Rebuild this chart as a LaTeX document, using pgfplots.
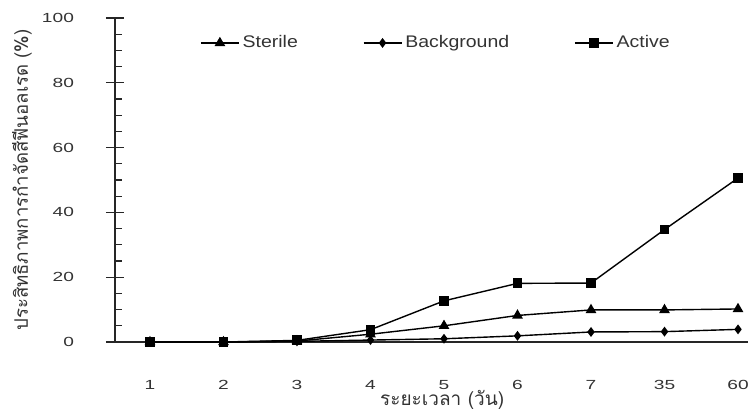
\documentclass[border=0pt]{standalone}
\usepackage{pgfplots}
\pgfplotsset{compat=1.18}
\usepackage{graphicx}
\usepackage{fontspec}
\setmainfont{Liberation Sans}
\newfontfamily\thaifont[Script=Thai]{Loma}
\newcommand\sx[1]{\scalebox{1.45}[1]{#1}}
\newcommand\slg[1]{\scalebox{1.16}[1]{#1}}
\colorlet{txt}{black!80}
\begin{document}
\begin{tikzpicture}
\begin{axis}[
  at={(0,0)}, anchor=south west,
  scale only axis, width=318.85pt, height=162pt,
  xmin=-0.476, xmax=8.2, ymin=0, ymax=100,
  clip=false,
  axis lines=left, axis line style={-, line width=0.6pt, black!85},
  xtick={0,1,2,3,4,5,6,7,8},
  xticklabels={\sx{1},\sx{2},\sx{3},\sx{4},\sx{5},\sx{6},\sx{7},\sx{35},\sx{60}},
  x tick style={draw=none},
  ytick={0,20,40,60,80,100},
  yticklabel={\sx{\pgfmathprintnumber{\tick}}},
  minor y tick num=3,
  tick align=center,
  major tick length=9pt,
  minor tick length=3.5pt,
  minor y tick style={xshift=1.75pt},
  y tick style={line width=0.6pt, black!85},
  /pgf/number format/assume math mode=true,
  tick label style={font=\fontsize{6.6}{7}\selectfont, text=txt},
  yticklabel style={xshift=-12.5pt},
  xticklabel style={yshift=-11pt},
  xlabel={{\thaifont ระยะเวลา} (วัน)},
  xlabel style={at={(axis description cs:0.513,-0.178)}, anchor=center, inner sep=0pt, font=\thaifont\fontsize{9.5}{10}\selectfont, text=txt},
  ylabel={{\thaifont ประสิทธิภาพการกำจัดสีฟีนอลเรด} (\%)},
  ylabel style={at={(axis description cs:-0.1458,0.5)}, anchor=center, font=\thaifont\fontsize{9.3}{10}\selectfont, text=txt},
  legend style={draw=none, fill=none, at={(axis description cs:0.133,0.923)}, anchor=west,
    font=\fontsize{8.4}{10}\selectfont, text=txt, inner sep=0pt,
    nodes={inner xsep=1.5pt}},
  legend columns=-1,
  legend cell align=left,
  /tikz/every even column/.append style={column sep=31pt},
  legend image code/.code={\draw[mark repeat=2,mark phase=2,#1] plot coordinates {(0pt,0pt) (9.5pt,0pt) (19pt,0pt)};},
]
\addplot[black, line width=0.7pt, mark=triangle*, mark size=2.4pt, mark options={solid}]
  coordinates {(0,0) (1,0) (2,0.3) (3,2.4) (4,5.0) (5,8.2) (6,9.9) (7,9.9) (8,10.2)};
\addlegendentry{\slg{Sterile}}
\addplot[black, line width=0.7pt, mark=diamond*, mark size=1.9pt, mark options={solid}]
  coordinates {(0,0) (1,0) (2,0.2) (3,0.6) (4,1.0) (5,1.9) (6,3.1) (7,3.2) (8,3.9)};
\addlegendentry{\slg{Background}}
\addplot[black, line width=0.7pt, mark=square*, mark size=2.1pt, mark options={solid}]
  coordinates {(0,0) (1,0) (2,0.5) (3,3.8) (4,12.7) (5,18.1) (6,18.2) (7,34.7) (8,50.6)};
\addlegendentry{\slg{Active}}
\end{axis}
\pgfresetboundingbox
\useasboundingbox (-57.5pt,-36pt) rectangle (316.5pt,171pt);
\end{tikzpicture}
\end{document}
